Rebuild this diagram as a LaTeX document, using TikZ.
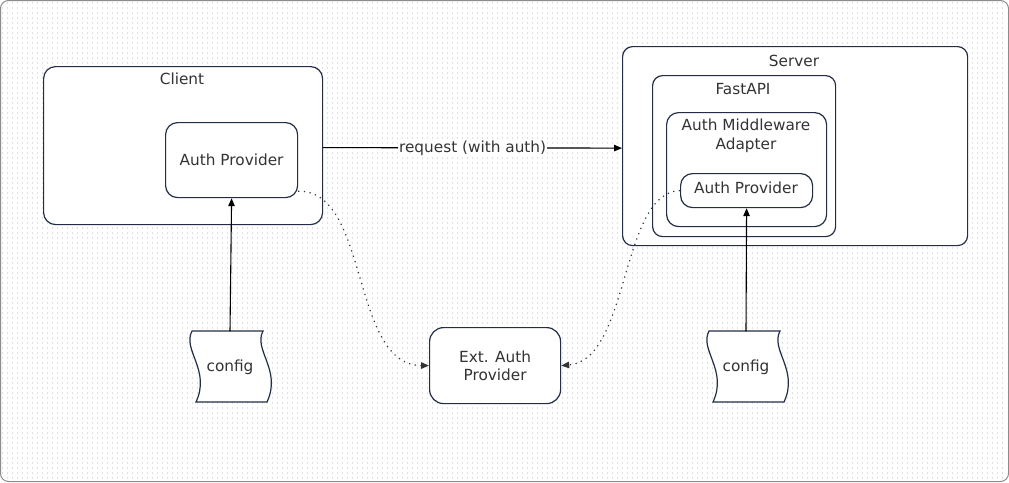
\documentclass[tikz,border=0pt]{standalone}
\usepackage{fontspec}
\setmainfont{DejaVu Sans}
\usetikzlibrary{arrows.meta,calc}
\definecolor{bord}{RGB}{35,45,70}
\definecolor{txt}{RGB}{51,51,51}
\definecolor{dotc}{RGB}{224,224,224}
\definecolor{framec}{RGB}{140,140,140}
\begin{document}
\begin{tikzpicture}[x=1pt,y=-1pt,
  box/.style={draw=bord, fill=white, line width=1.2pt, rounded corners=#1, inner sep=0pt},
  box/.default=12pt,
  lbl/.style={text=txt, font=\fontsize{15.3}{18.5}\selectfont, align=center, inner sep=1pt},
  arr/.style={-{Triangle[length=8pt,width=6.5pt]}, line width=1.1pt, draw=black},
  dotarr/.style={-{Triangle[length=8pt,width=6.5pt]}, line width=1.2pt, draw=black!80, dash pattern=on 1.2pt off 4.5pt},
  tapeshape/.style={draw=bord, fill=white, line width=1.2pt}]
\useasboundingbox (0,0) rectangle (1009,482);
% frame and dot grid
\draw[framec, line width=1pt, rounded corners=8pt, fill=white] (0.5,0.5) rectangle (1008.5,481.5);
\begin{scope}
\clip[rounded corners=8pt] (1,1) rectangle (1008,481);
\foreach \yy in {3,8,...,480} \draw[dotc, line width=1.1pt, dash pattern=on 1.1pt off 3.9pt] (2,\yy) -- (1007,\yy);
\end{scope}

% Client
\node[box, minimum width=279pt, minimum height=158pt, anchor=north west] (client) at (43,66) {};
\node[lbl] (clientl) at (182,79) {Client};
\node[box, minimum width=132pt, minimum height=75pt, anchor=north west] (cap) at (165,122) {};
\node[lbl] (capl) at (cap.center) {Auth Provider};

% Server
\node[box=10pt, minimum width=345pt, minimum height=199pt, anchor=north west] (server) at (622,46) {};
\node[lbl] (serverl) at (794,61) {Server};
\node[box=10pt, minimum width=183pt, minimum height=161pt, anchor=north west] (fast) at (652,75) {};
\node[lbl] (fastl) at (743,89) {FastAPI};
\node[box=12pt, minimum width=160pt, minimum height=114pt, anchor=north west] (mw) at (666,112) {};
\node[lbl] (mwl) at (746,136) {Auth Middleware\\Adapter};
\node[box=12pt, minimum width=132pt, minimum height=34pt, anchor=north west] (sap) at (680,173) {};
\node[lbl] (sapl) at (746,188) {Auth Provider};

% Ext
\node[box=14pt, minimum width=131pt, minimum height=76pt, anchor=north west] (ext) at (429,327) {};
\node[lbl] (extl) at (ext.center) {Ext. Auth\\Provider};

% config shapes
\begin{scope}[shift={(230,367)}]
\draw[tapeshape] (-38,-36) -- (33,-36) .. controls (23,-17) and (52,3) .. (37,35) -- (-34,35) .. controls (-19,3) and (-48,-17) .. (-38,-36) -- cycle;
\end{scope}
\node[lbl, minimum width=72pt, minimum height=71pt] (cfgl) at (230,367) {config};
\begin{scope}[shift={(747,367)}]
\draw[tapeshape] (-38,-36) -- (33,-36) .. controls (23,-17) and (52,3) .. (37,35) -- (-34,35) .. controls (-19,3) and (-48,-17) .. (-38,-36) -- cycle;
\end{scope}
\node[lbl, minimum width=72pt, minimum height=71pt] (cfgr) at (746,367) {config};

% connectors
\draw[arr] ($(client.east)+(0,2)$) -- node[lbl, fill=white, inner sep=1pt] (reql) {request (with auth)} ($(server.west)+(0,2)$);
\draw[arr] (cfgl.north) -- (cap.south);
\draw[arr] (cfgr.north) -- (sap.south);
\draw[dotarr] ($(cap.south east)+(0,-7)$) .. controls (370,190) and (350,365) .. (ext.west);
\draw[dotarr] (sap.west) .. controls (620,192) and (630,360) .. (ext.east);
\end{tikzpicture}
\end{document}
